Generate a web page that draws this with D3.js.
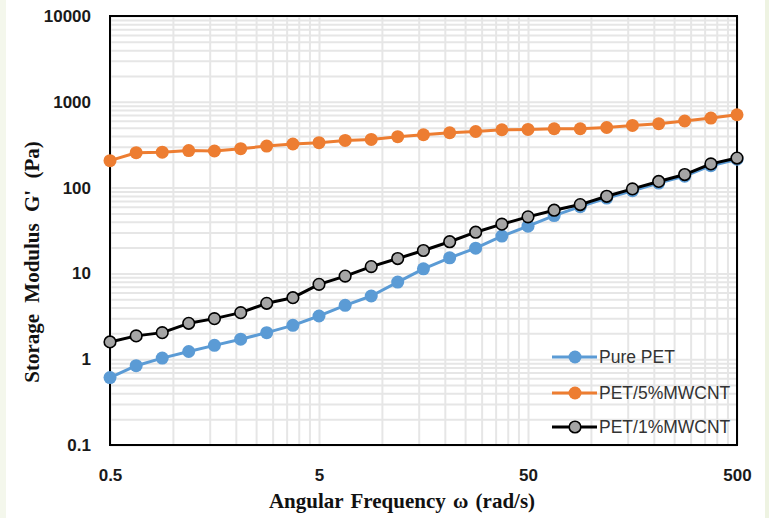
<!DOCTYPE html>
<html>
<head>
<meta charset="utf-8">
<script src="https://cdn.jsdelivr.net/npm/d3@7"></script>
<style>
  html, body { margin: 0; padding: 0; background: #ffffff; }
  svg { display: block; }
</style>
</head>
<body>
<script>
// ---- data ----
const frequency = [0.5, 0.667, 0.889, 1.19, 1.58, 2.11, 2.81, 3.75, 5, 6.67, 8.89, 11.9, 15.8, 21.1, 28.1, 37.5, 50, 66.7, 88.9, 119, 158, 211, 281, 375, 500];
const purePET = [0.61, 0.84, 1.03, 1.23, 1.45, 1.71, 2.04, 2.48, 3.19, 4.24, 5.45, 7.92, 11.3, 15.2, 19.7, 27.2, 35.5, 47.2, 60, 75.5, 92, 113, 136, 180, 214];
const pet5MWCNT = [206, 255, 259, 270, 267, 284, 305, 322, 334, 355, 364, 392, 413, 436, 451, 472, 476, 485, 485, 502, 530, 555, 597, 646, 706];
const pet1MWCNT = [1.59, 1.87, 2.04, 2.62, 2.97, 3.49, 4.48, 5.21, 7.45, 9.3, 12.0, 14.9, 18.5, 23.4, 30.2, 37.5, 45.6, 54.5, 63.4, 79.2, 96.6, 118, 142, 189, 221];
const seriesNames = ["Pure PET", "PET/5%MWCNT", "PET/1%MWCNT"];
const xTickValues = [0.5, 5, 50, 500];
const xTickLabels = ["0.5", "5", "50", "500"];
const yTickValues = [0.1, 1, 10, 100, 1000, 10000];
const yTickLabels = ["0.1", "1", "10", "100", "1000", "10000"];
const xTitle = "Angular Frequency ω (rad/s)";
const yTitle = "Storage Modulus G' (Pa)";

// ---- layout ----
const W = 769, H = 518;
const L = 110, R = 737, T = 16, B = 445;

const svg = d3.select("body").append("svg").attr("width", W).attr("height", H);
svg.append("rect").attr("width", W).attr("height", H).attr("fill", "#ffffff");
svg.append("rect").attr("x", 0).attr("y", 0).attr("width", 6).attr("height", H).attr("fill", "#f4f7ec");
svg.append("rect").attr("x", 765).attr("y", 0).attr("width", 4).attr("height", H).attr("fill", "#eef3e2");

const x = d3.scaleLog().domain([0.5, 500]).range([L, R]);
const y = d3.scaleLog().domain([0.1, 10000]).range([B, T]);

// grid values (Excel-style minor log gridlines)
const xGrid = [];
[0.5, 5, 50].forEach(b => { for (let k = 1; k <= 9; k++) xGrid.push(b * k); });
xGrid.push(500);
const yGrid = [];
[0.1, 1, 10, 100, 1000].forEach(b => { for (let k = 1; k <= 9; k++) yGrid.push(b * k); });
yGrid.push(10000);

const gridG = svg.append("g");
gridG.append("g").attr("transform", `translate(0,${B})`)
  .call(d3.axisBottom(x).tickValues(xGrid).tickSize(-(B - T)).tickFormat(""))
  .call(g => g.select(".domain").remove())
  .call(g => g.selectAll("line").attr("stroke", "#e6e6e6").attr("stroke-width", 2));
gridG.append("g").attr("transform", `translate(${L},0)`)
  .call(d3.axisLeft(y).tickValues(yGrid).tickSize(-(R - L)).tickFormat(""))
  .call(g => g.select(".domain").remove())
  .call(g => g.selectAll("line").attr("stroke", "#e6e6e6").attr("stroke-width", 2));

// plot border
svg.append("rect").attr("x", L).attr("y", T).attr("width", R - L).attr("height", B - T)
  .attr("fill", "none").attr("stroke", "#000").attr("stroke-width", 2);

// tick labels via axes
const tickFont = "'Liberation Sans', Arial, sans-serif";
svg.append("g").attr("transform", `translate(0,${B})`)
  .call(d3.axisBottom(x).tickValues(xTickValues).tickSize(0).tickPadding(24)
    .tickFormat((d, i) => xTickLabels[i]))
  .call(g => g.select(".domain").remove())
  .call(g => g.selectAll("text").attr("font-family", tickFont).attr("font-weight", "bold")
    .attr("font-size", 17).attr("fill", "#1a1a1a"));
svg.append("g").attr("transform", `translate(${L},0)`)
  .call(d3.axisLeft(y).tickValues(yTickValues).tickSize(0).tickPadding(19)
    .tickFormat((d, i) => yTickLabels[i]))
  .call(g => g.select(".domain").remove())
  .call(g => g.selectAll("text").attr("font-family", tickFont).attr("font-weight", "bold")
    .attr("font-size", 17).attr("fill", "#1a1a1a"));

// axis titles (centered using measured width, since word-spacing is used)
const titleFont = "'Liberation Serif', 'Times New Roman', serif";
const xt = svg.append("text").attr("x", 0).attr("y", 508).attr("text-anchor", "start")
  .attr("font-family", titleFont).attr("font-weight", "bold").attr("font-size", 21)
  .attr("word-spacing", 2).attr("fill", "#111").text(xTitle);
const xw = xt.node().getBBox().width;
xt.attr("x", 402 - xw / 2);

const yt = svg.append("text").attr("x", 0).attr("y", 0).attr("text-anchor", "start")
  .attr("font-family", titleFont).attr("font-weight", "bold").attr("font-size", 21)
  .attr("word-spacing", 6).attr("fill", "#111").text(yTitle);
const yw = yt.node().getBBox().width;
yt.attr("transform", `translate(39,${262 + yw / 2}) rotate(-90)`);

// series
const series = [
  { name: seriesNames[0], values: purePET, color: "#5b9bd5", fill: "#5b9bd5", stroke: "none" },
  { name: seriesNames[1], values: pet5MWCNT, color: "#ed7d31", fill: "#ed7d31", stroke: "none" },
  { name: seriesNames[2], values: pet1MWCNT, color: "#000000", fill: "#a5a5a5", stroke: "#000000" }
];
const line = d3.line().x(d => x(d[0])).y(d => y(d[1]));
series.forEach(s => {
  const pts = frequency.map((f, i) => [f, s.values[i]]);
  const g = svg.append("g");
  g.append("path").datum(pts).attr("d", line).attr("fill", "none")
    .attr("stroke", s.color).attr("stroke-width", 3).attr("stroke-linejoin", "round");
  g.selectAll("circle").data(pts).join("circle")
    .attr("cx", d => x(d[0])).attr("cy", d => y(d[1]))
    .attr("r", s.stroke === "none" ? 6.5 : 5.8)
    .attr("fill", s.fill)
    .attr("stroke", s.stroke === "none" ? "none" : s.stroke)
    .attr("stroke-width", 1.6);
});

// legend
const legY = [357, 393, 427];
series.forEach((s, i) => {
  const g = svg.append("g");
  g.append("line").attr("x1", 552).attr("x2", 597).attr("y1", legY[i]).attr("y2", legY[i])
    .attr("stroke", s.color).attr("stroke-width", 3);
  g.append("circle").attr("cx", 575).attr("cy", legY[i])
    .attr("r", s.stroke === "none" ? 6.5 : 5.8)
    .attr("fill", s.fill).attr("stroke", s.stroke === "none" ? "none" : s.stroke).attr("stroke-width", 1.6);
  g.append("text").attr("x", 599).attr("y", legY[i] + 6)
    .attr("font-family", tickFont).attr("font-size", 17.5).attr("fill", "#333")
    .text(s.name);
});
</script>
</body>
</html>
